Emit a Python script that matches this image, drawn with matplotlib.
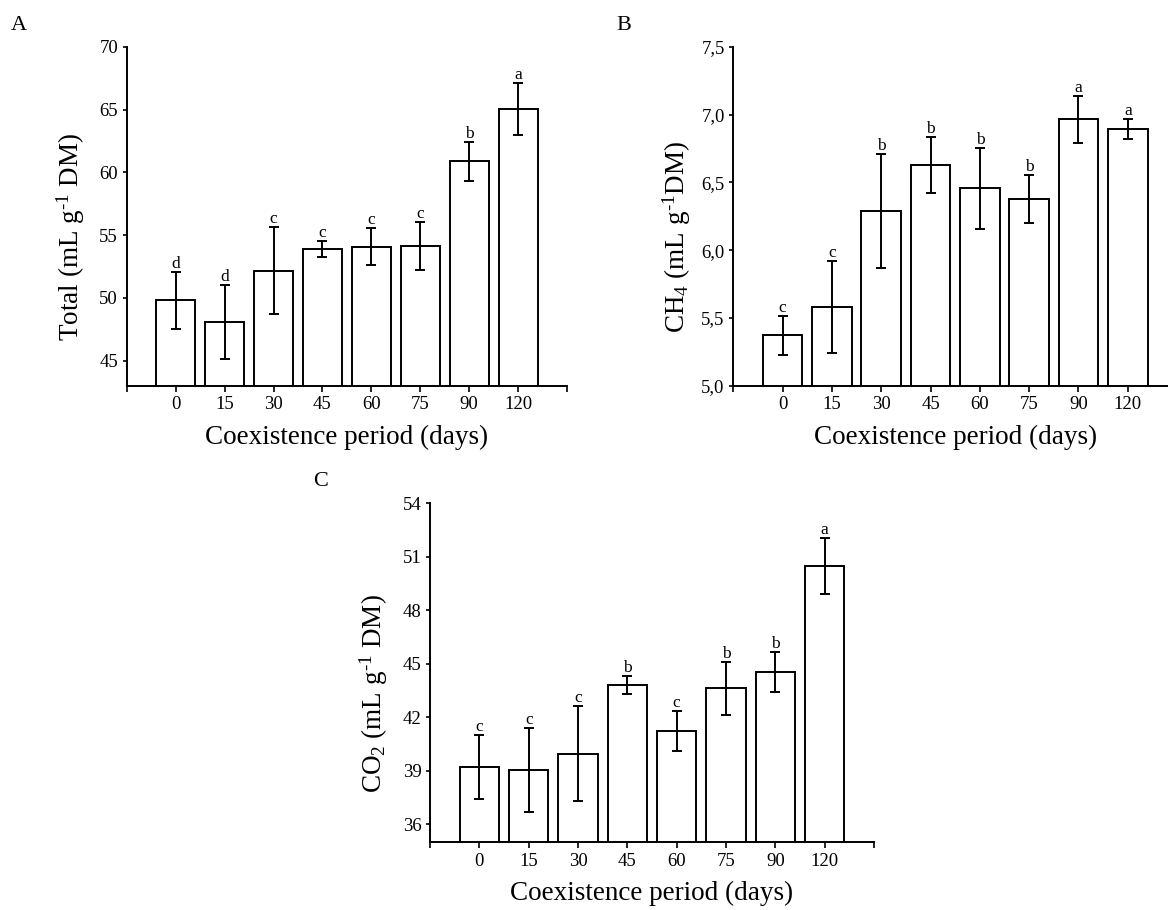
import numpy as np
import matplotlib
matplotlib.use('Agg')
import matplotlib.pyplot as plt
from matplotlib.ticker import FuncFormatter

plt.rcParams['font.family'] = ['Liberation Serif', 'DejaVu Serif']
plt.rcParams['mathtext.fontset'] = 'custom'
plt.rcParams['mathtext.rm'] = 'Liberation Serif'
plt.rcParams['mathtext.it'] = 'Liberation Serif:italic'

days = ['0', '15', '30', '45', '60', '75', '90', '120']

total_mean = [49.8, 48.1, 52.15, 53.93, 54.07, 54.14, 60.88, 65.05]
total_err = [2.3, 2.95, 3.46, 0.64, 1.46, 1.92, 1.53, 2.05]
total_grp = ['d', 'd', 'c', 'c', 'c', 'c', 'b', 'a']

ch4_mean = [5.371, 5.581, 6.288, 6.63, 6.456, 6.379, 6.966, 6.894]
ch4_err = [0.145, 0.342, 0.42, 0.207, 0.30, 0.177, 0.175, 0.077]
ch4_grp = ['c', 'c', 'b', 'b', 'b', 'b', 'a', 'a']

co2_mean = [39.2, 39.06, 39.96, 43.81, 41.24, 43.63, 44.56, 50.5]
co2_err = [1.8, 2.35, 2.66, 0.5, 1.12, 1.5, 1.12, 1.58]
co2_grp = ['c', 'c', 'c', 'b', 'c', 'b', 'b', 'a']


def bar_panel(ax, mean, err, grp, ylim, yticks, ylabel, comma=False):
    x = np.arange(len(days))
    ax.bar(x, mean, width=0.8, color='white', edgecolor='black', linewidth=1.4, zorder=2)
    ax.errorbar(x, mean, yerr=err, fmt='none', ecolor='black', elinewidth=1.4,
                capsize=3.4, capthick=1.4, zorder=3)
    for xi, m, e, g in zip(x, mean, err, grp):
        ax.annotate(g, (xi, m + e), xytext=(0, 0), textcoords='offset points',
                    ha='center', va='bottom', fontsize=12.5)
    ax.set_xlim(-1, 8)
    ax.set_ylim(*ylim)
    ax.set_xticks(np.arange(-1, 9))
    ax.set_xticklabels([''] + days + [''])
    ax.set_yticks(yticks)
    if comma:
        ax.yaxis.set_major_formatter(FuncFormatter(lambda v, p: ('%.1f' % v).replace('.', ',')))
    ax.spines['top'].set_visible(False)
    ax.spines['right'].set_visible(False)
    ax.spines['left'].set_linewidth(1.4)
    ax.spines['bottom'].set_linewidth(1.4)
    ax.tick_params(axis='y', direction='out', length=3.2, width=1.2, labelsize=13.5, pad=3)
    ax.tick_params(axis='x', direction='out', length=4.5, width=1.2, labelsize=13.5, pad=3)
    ax.set_xlabel('Coexistence period (days)', fontsize=19.5, va='top')
    ax.xaxis.set_label_coords(0.5, -0.115)
    ax.set_ylabel(ylabel, fontsize=19.5)
    ax.yaxis.set_label_coords(-0.09, 0.44)


fig = plt.figure(figsize=(11.68, 9.10), dpi=100)

axA = fig.add_axes([0.1085, 0.5762, 0.377, 0.3722])
bar_panel(axA, total_mean, total_err, total_grp, (43, 70), [45, 50, 55, 60, 65, 70],
          r'Total (mL g$^{\text{-1}}$ DM)')

axB = fig.add_axes([0.6278, 0.5762, 0.380, 0.3722])
bar_panel(axB, ch4_mean, ch4_err, ch4_grp, (5.0, 7.5), [5.0, 5.5, 6.0, 6.5, 7.0, 7.5],
          r'CH$_4$ (mL g$^{\text{-1}}$DM)', comma=True)

axC = fig.add_axes([0.3682, 0.0744, 0.380, 0.3725])
bar_panel(axC, co2_mean, co2_err, co2_grp, (35, 54), [36, 39, 42, 45, 48, 51, 54],
          r'CO$_2$ (mL g$^{\text{-1}}$ DM)')

fig.text(19 / 1168, 1 - 26 / 910, 'A', fontsize=16, ha='center', va='center')
fig.text(624 / 1168, 1 - 25 / 910, 'B', fontsize=16, ha='center', va='center')
fig.text(321 / 1168, 1 - 481 / 910, 'C', fontsize=16, ha='center', va='center')

fig.savefig('out.png', dpi=100)
